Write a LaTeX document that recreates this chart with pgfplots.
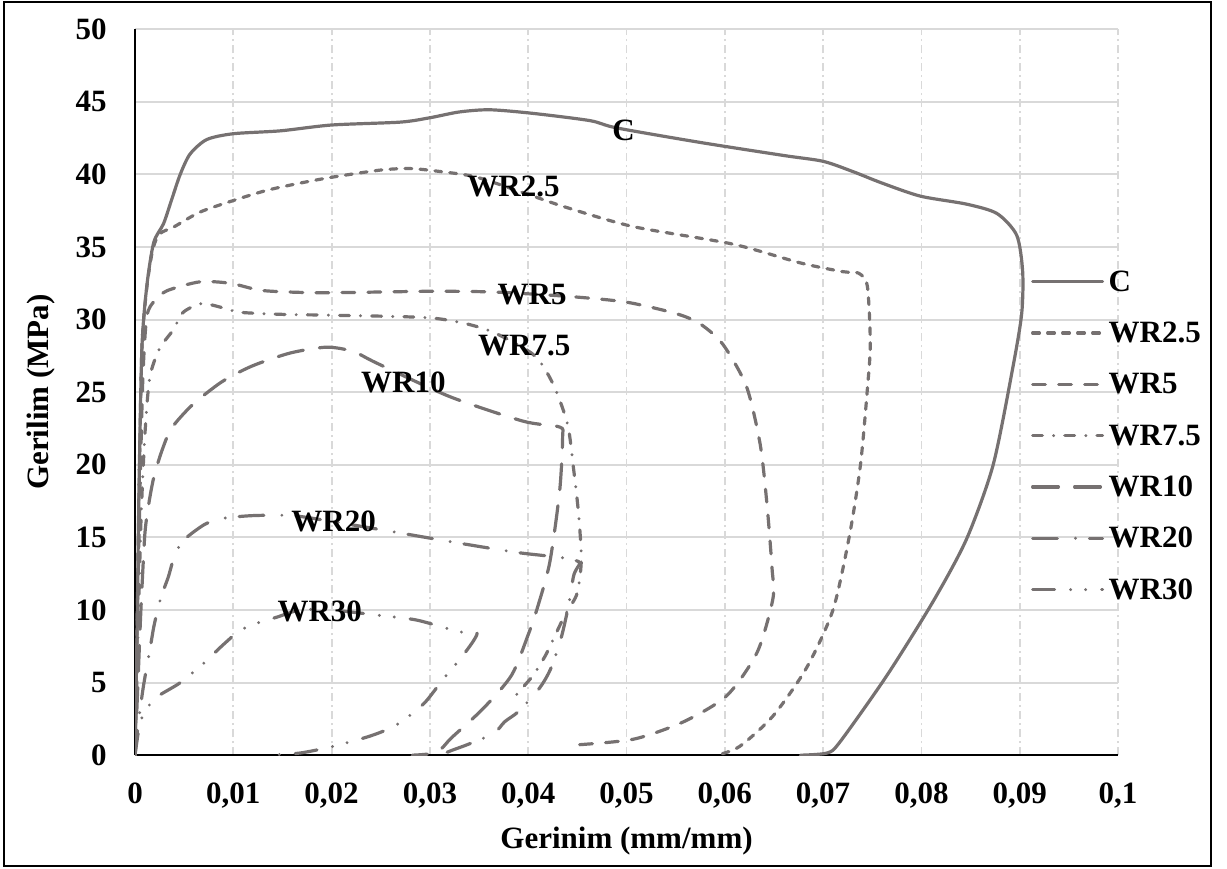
\documentclass[border=0pt]{standalone}
\usepackage{fontspec}
\setmainfont{Liberation Serif}
\usepackage{pgfplots}
\pgfplotsset{compat=1.18}
\definecolor{curve}{RGB}{118,113,113}
\definecolor{gridc}{RGB}{217,217,217}
\newcommand{\lf}{\bfseries\fontsize{15.5bp}{18bp}\selectfont}

\begin{document}
\begin{tikzpicture}[x=1bp,y=1bp]
\useasboundingbox (0,0) rectangle (613.5,434.5);
\draw[black, line width=0.8bp] (2,1.5) rectangle (605.5,433.5);
\begin{axis}[
  at={(67.5bp,56.9bp)}, anchor=south west,
  scale only axis, width=491.5bp, height=363bp,
  xmin=0, xmax=0.1, ymin=0, ymax=50,
  axis lines=left,
  axis line style={-, black, line width=1bp},
  every outer x axis line/.append style={-},
  every outer y axis line/.append style={-},
  major tick length=0pt,
  xtick={0,0.01,0.02,0.03,0.04,0.05,0.06,0.07,0.08,0.09,0.1},
  xticklabels={0,{0,01},{0,02},{0,03},{0,04},{0,05},{0,06},{0,07},{0,08},{0,09},{0,1}},
  ytick={0,5,10,15,20,25,30,35,40,45,50},
  yticklabels={0,5,10,15,20,25,30,35,40,45,50},
  ticklabel style={font=\lf},
  xticklabel style={anchor=north, inner sep=0pt, yshift=-13.5bp},
  yticklabel style={anchor=east, inner sep=0pt, xshift=-14bp},
  grid=major,
  x grid style={gridc, line width=0.9bp, dash pattern=on 4bp off 2bp on 1bp off 2bp},
  y grid style={gridc, line width=1bp},
  xlabel={Gerinim (mm/mm)},
  ylabel={Gerilim (MPa)},
  every axis x label/.style={at={(axis description cs:0.5,-0.1285)}, anchor=base, font=\lf},
  every axis y label/.style={at={(axis description cs:-0.0956,0.5)}, anchor=center, rotate=90, font=\lf},
  every axis plot/.append style={curve, line width=1.6bp, line cap=round, line join=round, smooth, tension=0.45, mark=none},
  legend style={draw=none, fill=none, font=\lf, at={(axis cs:0.0905,33.7)}, anchor=north west,
    row sep=15.15bp, nodes={inner xsep=2.25bp, inner ysep=0pt, text height=10.5bp, text depth=0pt}},
  legend cell align=left,
  legend image code/.code={\draw[#1, smooth=false] (0bp,-0.5bp) -- (35bp,-0.5bp);},
]
% C
\addplot[solid] coordinates {(0,0) (0.0002,8) (0.0004,18) (0.0007,28) (0.0012,32.3) (0.0019,35.3) (0.0029,36.6) (0.0037,38.2) (0.0046,40.0) (0.0056,41.4) (0.0073,42.4) (0.0100,42.8) (0.0148,43.0) (0.0200,43.4) (0.0270,43.6) (0.0300,43.9) (0.0330,44.3) (0.0361,44.45) (0.0405,44.2) (0.0463,43.7) (0.0490,43.2) (0.0575,42.2) (0.0660,41.3) (0.0700,40.9) (0.0730,40.2) (0.0760,39.4) (0.0799,38.5) (0.0846,37.95) (0.0877,37.3) (0.0897,35.8) (0.0903,33.3) (0.0902,30.4) (0.0893,26.7) (0.0873,20.0) (0.0846,14.9) (0.0812,10.6) (0.0765,5.5) (0.0717,0.9) (0.0704,0.15) (0.0677,0)};
% WR2.5
\addplot[dash pattern=on 3.4bp off 4.1bp] coordinates {(0,0) (0.0002,8) (0.0004,18) (0.0007,28) (0.0012,32.2) (0.0018,34.8) (0.0025,35.9) (0.0040,36.4) (0.0066,37.4) (0.0100,38.2) (0.0134,38.9) (0.0168,39.4) (0.0200,39.8) (0.0250,40.3) (0.0280,40.4) (0.0310,40.2) (0.0348,39.8) (0.0405,38.5) (0.0440,37.7) (0.0507,36.4) (0.0608,35.2) (0.0677,33.9) (0.0720,33.3) (0.0736,33.2) (0.0745,32.3) (0.0748,28.3) (0.0745,25.2) (0.0738,20.0) (0.0727,15.2) (0.0710,10.0) (0.0683,6.0) (0.0649,2.7) (0.0615,0.6) (0.0592,0)};
% WR5
\addplot[dash pattern=on 6.4bp off 6.6bp] coordinates {(0,0) (0.0002,8) (0.0005,18) (0.0008,26) (0.0012,30.2) (0.0020,31.3) (0.0033,32.0) (0.0066,32.6) (0.0097,32.5) (0.0130,32.0) (0.0185,31.85) (0.0250,31.9) (0.0303,31.95) (0.0364,31.9) (0.0440,31.6) (0.0500,31.2) (0.0551,30.4) (0.0575,29.7) (0.0598,28.3) (0.0622,25.4) (0.0636,21.4) (0.0643,17.2) (0.0648,12.9) (0.0649,10.8) (0.0633,7.1) (0.0602,4.1) (0.0558,2.3) (0.0507,1.1) (0.0447,0.7)};
% WR7.5
\addplot[dash pattern=on 4.9bp off 5.6bp on 0bp off 5.6bp] coordinates {(0,0) (0.0003,8) (0.0006,16) (0.0010,22) (0.0015,26) (0.0025,28.0) (0.0039,29.3) (0.0049,30.5) (0.0068,31.1) (0.0090,30.8) (0.0107,30.5) (0.0154,30.35) (0.0200,30.3) (0.0303,30.1) (0.0358,29.3) (0.0405,27.6) (0.0425,25.6) (0.0440,22.8) (0.0446,19.8) (0.0451,16.8) (0.0454,13.9) (0.0453,12.5) (0.0449,11.0) (0.0437,9.6) (0.0427,8.2) (0.0417,6.8) (0.0405,5.5) (0.0391,4.4) (0.0386,4.0)};
% WR10
\addplot[dash pattern=on 12.9bp off 8.1bp] coordinates {(0,0) (0.0003,5) (0.0006,10) (0.0010,15.2) (0.0014,17.3) (0.0019,19.1) (0.0027,20.9) (0.0037,22.5) (0.0058,24.1) (0.0088,25.7) (0.0119,26.8) (0.0158,27.7) (0.0195,28.1) (0.0222,27.8) (0.0246,27.0) (0.0320,24.7) (0.0395,23.0) (0.0432,22.6) (0.0435,21.9) (0.0432,18.2) (0.0422,13.3) (0.0410,10.3) (0.0400,8.3) (0.0383,5.5) (0.0354,3.2) (0.0322,1.2) (0.0307,0.2) (0.0282,0)};
% WR20
\addplot[dash pattern=on 12.4bp off 9bp on 0bp off 7bp] coordinates {(0,0) (0.0003,2) (0.0008,4.5) (0.0012,6.1) (0.0015,7.2) (0.0019,8.8) (0.0023,10.0) (0.0027,11.0) (0.0034,12.3) (0.0041,13.9) (0.0051,14.9) (0.0071,15.9) (0.0088,16.3) (0.0120,16.5) (0.0160,16.5) (0.0200,16.1) (0.0270,15.3) (0.0330,14.6) (0.0390,13.95) (0.0435,13.6) (0.0452,13.3) (0.0449,12.8) (0.0446,12.3) (0.0441,10.3) (0.0434,8.2) (0.0425,6.3) (0.0418,5.3) (0.0409,4.4) (0.0390,3.0) (0.0376,2.3) (0.0365,1.5) (0.0339,0.75) (0.0323,0.35) (0.0310,0)};
% WR30
\addplot[dash pattern=on 11bp off 8bp on 0bp off 7.5bp on 0bp off 8bp] coordinates {(0,0) (0.0005,2.2) (0.0012,3.2) (0.0022,4.0) (0.0044,4.9) (0.0059,5.7) (0.0071,6.4) (0.0088,7.5) (0.0105,8.5) (0.0120,9.0) (0.0144,9.5) (0.0168,10.0) (0.0200,10.0) (0.0252,9.6) (0.0287,9.3) (0.0330,8.5) (0.0348,8.4) (0.0334,6.9) (0.0313,5.2) (0.0303,4.3) (0.0293,3.5) (0.0271,2.3) (0.0256,1.75) (0.0236,1.25) (0.0201,0.6) (0.0168,0.15) (0.0134,0)};
\legend{C,WR2.5,WR5,WR7.5,WR10,WR20,WR30}
\node[font=\lf] at (axis cs:0.0497,43.0) {C};
\node[font=\lf] at (axis cs:0.0385,39.2) {WR2.5};
\node[font=\lf] at (axis cs:0.0404,31.7) {WR5};
\node[font=\lf] at (axis cs:0.0396,28.2) {WR7.5};
\node[font=\lf] at (axis cs:0.0273,25.65) {WR10};
\node[font=\lf] at (axis cs:0.0202,16.1) {WR20};
\node[font=\lf] at (axis cs:0.0188,9.93) {WR30};
\end{axis}
\end{tikzpicture}
\end{document}
